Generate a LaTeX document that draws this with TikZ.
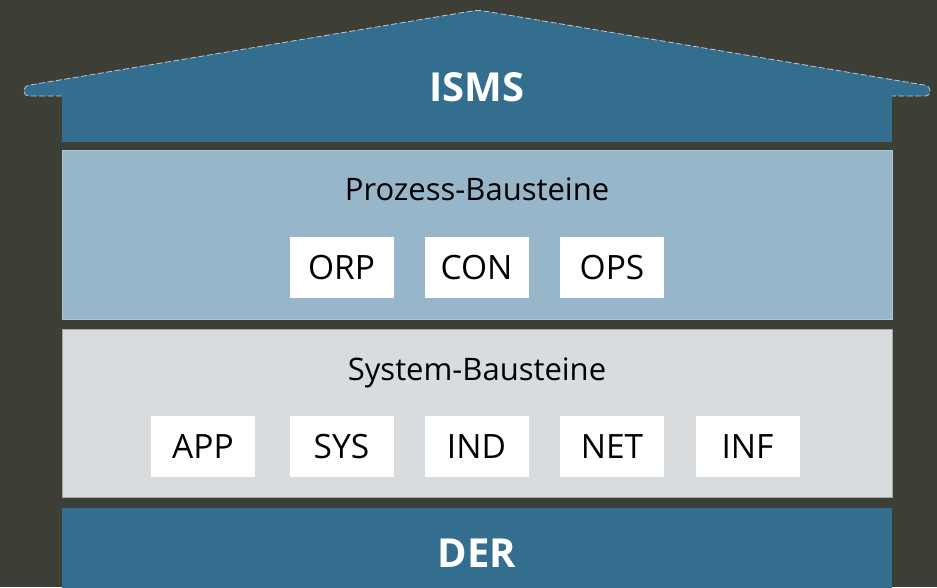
\documentclass[tikz,border=0pt]{standalone}
\usepackage{fontspec}
\setmainfont{Open Sans}
\definecolor{bgdark}{HTML}{3D3F36}
\definecolor{roofblue}{HTML}{336E8F}
\definecolor{rooflight}{HTML}{B9CAD6}
\definecolor{procblue}{HTML}{98B6C9}
\definecolor{sysgray}{HTML}{D8DCDF}
\tikzset{
  layer/.style={draw=none, inner sep=0pt, minimum width=830pt},
  bbox/.style={fill=white, draw=none, inner sep=0pt, minimum width=104pt, minimum height=61pt,
     font=\fontsize{33.5}{38}\selectfont, text height=23.5pt, text depth=0pt},
  ttl/.style={anchor=base, inner sep=0pt, font=\fontsize{31}{36}\selectfont, text=black},
  big/.style={anchor=base, inner sep=0pt, font=\fontsize{40}{44}\selectfont\bfseries, text=white}
}
\begin{document}
\begin{tikzpicture}[x=1pt,y=-1pt]
\fill[bgdark] (0,0) rectangle (937,587);
\useasboundingbox (0,0) rectangle (937,587);
% roof
\fill[roofblue, rounded corners=4.5pt] (62,96) -- (24,96) -- (24,86) -- (478,10) -- (930,86) -- (930,96) -- (892,96) -- cycle;
\draw[rooflight, line width=0.8pt, dash pattern=on 6pt off 2.5pt, rounded corners=4.5pt] (62,96) -- (24,96) -- (24,86) -- (478,10) -- (930,86) -- (930,96) -- (892,96);
% layers
\node[layer, fill=roofblue, minimum height=47pt] (isms) at (477,118) {};
\node[layer, fill=procblue, draw=procblue!80!white, minimum height=169pt] (proc) at (477,234.5) {};
\node[layer, fill=sysgray, draw=gray!70, line width=0.5pt, minimum height=168pt] (sys) at (477,413) {};
\node[layer, fill=roofblue, minimum height=90pt] (der) at (477,553) {};
% titles
\node[big] (ismst) at (477,101.5) {ISMS};
\node[big] (dert) at (477,567) {DER};
\node[ttl] (proct) at (477,200) {Prozess-Bausteine};
\node[ttl] (syst) at (477,380) {System-Bausteine};
% process boxes
\node[bbox] (orp) at (341.5,267.5) {ORP};
\node[bbox] (con) at (476.5,267.5) {CON};
\node[bbox] (ops) at (612,267.5) {OPS};
% system boxes
\node[bbox] (app) at (203,446.5) {APP};
\node[bbox] (sysb) at (341.5,446.5) {SYS};
\node[bbox] (ind) at (476.5,446.5) {IND};
\node[bbox] (net) at (612,446.5) {NET};
\node[bbox] (inf) at (747.5,446.5) {INF};
\end{tikzpicture}
\end{document}
